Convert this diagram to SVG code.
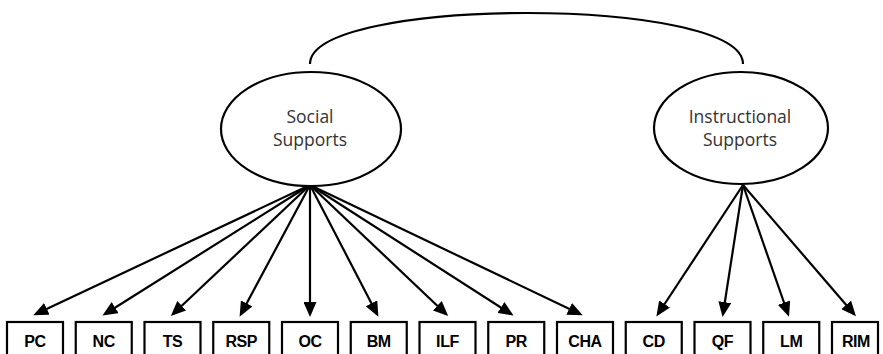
<svg xmlns="http://www.w3.org/2000/svg" width="883" height="354" viewBox="0 0 883 354">
<defs>
<style>
.lat{fill:#fff;stroke:#000;stroke-width:2.2}
.lt{font-family:"Open Sans","Liberation Sans",sans-serif;font-size:17.5px;fill:#333;text-anchor:middle}
.box{fill:#fff;stroke:#000;stroke-width:2.2}
.bt{font-family:"Liberation Sans",Arial,sans-serif;font-weight:bold;font-size:16px;fill:#000;text-anchor:middle;letter-spacing:-0.4px}
.c line,.c path{stroke:#000;stroke-width:2.2;fill:none}
</style>
<marker id="ah" markerUnits="userSpaceOnUse" markerWidth="15" markerHeight="13" refX="12" refY="6.5" orient="auto">
<path d="M0,0 L15,6.5 L0,13 z" fill="#000"/>
</marker>
</defs>
<rect width="883" height="354" fill="#fff"/>
<g class="c" id="connectors">
<path d="M310,64 C310,-4 743,-4 743,64"/>
<line x1="310" y1="185" x2="36" y2="314" marker-end="url(#ah)"/>
<line x1="310" y1="185" x2="105" y2="314" marker-end="url(#ah)"/>
<line x1="310" y1="185" x2="173" y2="314" marker-end="url(#ah)"/>
<line x1="310" y1="185" x2="241" y2="314" marker-end="url(#ah)"/>
<line x1="310" y1="185" x2="310" y2="314" marker-end="url(#ah)"/>
<line x1="310" y1="185" x2="377" y2="314" marker-end="url(#ah)"/>
<line x1="310" y1="185" x2="446" y2="314" marker-end="url(#ah)"/>
<line x1="310" y1="185" x2="511" y2="314" marker-end="url(#ah)"/>
<line x1="310" y1="185" x2="580" y2="314" marker-end="url(#ah)"/>
<line x1="743" y1="185" x2="658" y2="314" marker-end="url(#ah)"/>
<line x1="743" y1="185" x2="723" y2="314" marker-end="url(#ah)"/>
<line x1="743" y1="185" x2="788" y2="314" marker-end="url(#ah)"/>
<line x1="743" y1="185" x2="854" y2="314" marker-end="url(#ah)"/>
</g>
<g id="social">
<ellipse class="lat" cx="311" cy="129" rx="90" ry="57"/>
<text class="lt" x="310" y="123">Social</text>
<text class="lt" x="310" y="146">Supports</text>
</g>
<g id="instructional">
<ellipse class="lat" cx="741" cy="128" rx="87" ry="56"/>
<text class="lt" x="740" y="123">Instructional</text>
<text class="lt" x="740" y="146">Supports</text>
</g>
<g id="PC"><rect class="box" x="7" y="322" width="56" height="40"/><text class="bt" x="35" y="347">PC</text></g>
<g id="NC"><rect class="box" x="75.75" y="322" width="56" height="40"/><text class="bt" x="103.75" y="347">NC</text></g>
<g id="TS"><rect class="box" x="144.5" y="322" width="56" height="40"/><text class="bt" x="172.5" y="347">TS</text></g>
<g id="RSP"><rect class="box" x="213.25" y="322" width="56" height="40"/><text class="bt" x="241.25" y="347">RSP</text></g>
<g id="OC"><rect class="box" x="282" y="322" width="56" height="40"/><text class="bt" x="310" y="347">OC</text></g>
<g id="BM"><rect class="box" x="350.75" y="322" width="56" height="40"/><text class="bt" x="378.75" y="347">BM</text></g>
<g id="ILF"><rect class="box" x="419.5" y="322" width="56" height="40"/><text class="bt" x="447.5" y="347">ILF</text></g>
<g id="PR"><rect class="box" x="488.25" y="322" width="56" height="40"/><text class="bt" x="516.25" y="347">PR</text></g>
<g id="CHA"><rect class="box" x="557" y="322" width="56" height="40"/><text class="bt" x="585" y="347">CHA</text></g>
<g id="CD"><rect class="box" x="625.75" y="322" width="56" height="40"/><text class="bt" x="653.75" y="347">CD</text></g>
<g id="QF"><rect class="box" x="694.5" y="322" width="56" height="40"/><text class="bt" x="722.5" y="347">QF</text></g>
<g id="LM"><rect class="box" x="763.25" y="322" width="56" height="40"/><text class="bt" x="791.25" y="347">LM</text></g>
<g id="RIM"><rect class="box" x="832" y="322" width="46" height="40"/><text class="bt" x="856" y="347">RIM</text></g>
</svg>
